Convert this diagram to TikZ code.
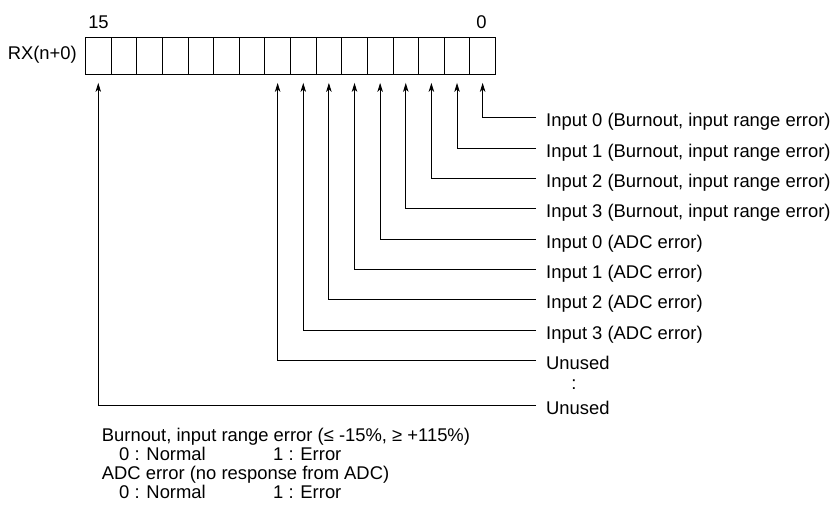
\documentclass[tikz,border=0pt]{standalone}
\usepackage{fontspec}
\setmainfont{Liberation Sans}
\usetikzlibrary{arrows.meta}
\begin{document}
\begin{tikzpicture}[x=1pt,y=-1pt,
  every node/.style={font=\fontsize{18.4}{22}\selectfont, inner sep=0pt},
  cell/.style={draw, line width=0.9pt, minimum width=25.625pt, minimum height=37pt, anchor=north west},
  lbl/.style={anchor=base west},
  conn/.style={line width=0.9pt, -{Stealth[length=9pt,width=5.5pt,inset=2.5pt]}},
]
\useasboundingbox (0,0) rectangle (834,521);
\foreach \i in {0,...,15} {
  \node[cell] (c\i) at ({495-25.625*(\i+1)},37) {};
}
\node[anchor=base east] (rx) at (77,60) {RX(n+0)};
\node[anchor=base] (b15) at (98.5,29) {15};
\node[anchor=base] (b0) at (481.5,29) {0};
\foreach \i/\t in {0/{Input 0 (Burnout, input range error)},
                   1/{Input 1 (Burnout, input range error)},
                   2/{Input 2 (Burnout, input range error)},
                   3/{Input 3 (Burnout, input range error)},
                   4/{Input 0 (ADC error)},
                   5/{Input 1 (ADC error)},
                   6/{Input 2 (ADC error)},
                   7/{Input 3 (ADC error)},
                   8/{Unused}} {
  \coordinate (e\i) at (536,{117.7+30.33*\i});
  \node[lbl] (l\i) at (546,{126.7+30.33*\i}) {\t};
  \draw[conn] (e\i) -| ([yshift=-8pt]c\i.south);
}
\coordinate (e15) at (536,405.7);
\node[lbl] (l15) at (546,414.7) {Unused};
\draw[conn] (e15) -| ([yshift=-8pt]c15.south);
\node (dots) at (574,385) {:};
\node[lbl] (n1) at (101.7,441) {Burnout, input range error (≤ -15\%, ≥ +115\%)};
\node[lbl] (n2) at (119,460) {0 : Normal};
\node[lbl] (n3) at (273,460) {1 : Error};
\node[lbl] (n4) at (101.7,479.3) {ADC error (no response from ADC)};
\node[lbl] (n5) at (119,498.3) {0 : Normal};
\node[lbl] (n6) at (273,498.3) {1 : Error};
\end{tikzpicture}
\end{document}
